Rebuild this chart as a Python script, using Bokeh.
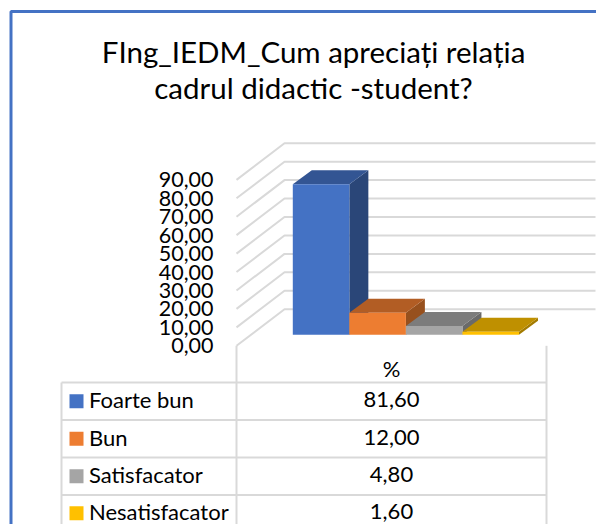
from bokeh.plotting import figure
from bokeh.models import LinearAxis, FixedTicker, Range1d
from bokeh.core.properties import value
from bokeh.embed import file_html
from bokeh.resources import INLINE

categories = ["Foarte bun", "Bun", "Satisfacator", "Nesatisfacator"]
values = [81.60, 12.00, 4.80, 1.60]
value_labels = ["81,60", "12,00", "4,80", "1,60"]
tick_values = [0, 10, 20, 30, 40, 50, 60, 70, 80, 90]
tick_labels = ["0,00", "10,00", "20,00", "30,00", "40,00", "50,00", "60,00", "70,00", "80,00", "90,00"]
front_colors = ["#4472c4", "#ed7d31", "#a5a5a5", "#ffc000"]
top_colors = ["#335593", "#b25d24", "#7c7c7c", "#bf9000"]
side_colors = ["#2a4678", "#97501d", "#6a6a6a", "#a37b00"]
title_lines = ["FIng_IEDM_Cum apreciați relația", "cadrul didactic -student?"]
series_name = "%"

FONT = "Lato"
PX_PER_UNIT = 1.844
ZERO_PIX = 345.3
W, H = 596, 524


def Y(pix):
    """picture pixel row -> value units"""
    return (ZERO_PIX - pix) / PX_PER_UNIT


p = figure(width=W, height=H, output_backend="svg", toolbar_location=None,
           x_axis_type=None, y_axis_type=None, min_border=0,
           x_range=Range1d(0, W), y_range=Range1d(Y(H), Y(0)))
p.outline_line_color = None
p.background_fill_color = "white"
p.grid.visible = False

# outer blue frame
p.line([10.5, 10.5, W], [Y(H), Y(11), Y(11)], line_color="#4472c4", line_width=3)

# 3-D walls
GRID = "#d9d9d9"
WALL_LEFT, WALL_BACK, WALL_RIGHT = 236, 284, 595
DEPTH_UNITS = 36.6 / PX_PER_UNIT
for t in tick_values:
    p.line([WALL_LEFT, WALL_BACK, WALL_RIGHT], [t, t + DEPTH_UNITS, t + DEPTH_UNITS],
           line_color=GRID, line_width=2)

# bars
BAR_LEFT, BAR_W = 292.3, 56.55
BASE = Y(334.3)
DX, DY = 19, 14 / PX_PER_UNIT
for i, v in enumerate(values):
    x0, x1 = BAR_LEFT + i * BAR_W, BAR_LEFT + (i + 1) * BAR_W
    top = BASE + v
    p.patch([x1, x1 + DX, x1 + DX, x1], [BASE, BASE + DY, top + DY, top], fill_color=side_colors[i], line_color=None)
    p.patch([x0, x0 + DX, x1 + DX, x1], [top, top + DY, top + DY, top], fill_color=top_colors[i], line_color=None)
    p.quad(left=x0, right=x1, bottom=BASE, top=top, fill_color=front_colors[i], line_color=None)

# value axis
axis = LinearAxis(fixed_location=WALL_LEFT, ticker=FixedTicker(ticks=tick_values),
                  major_label_overrides=dict(zip(tick_values, tick_labels)),
                  axis_line_color=None, major_tick_line_color=None, minor_tick_line_color=None,
                  major_tick_in=0, major_tick_out=0, major_label_standoff=23,
                  major_label_text_font=FONT, major_label_text_font_size="21.5px",
                  major_label_text_color="#000000")
p.add_layout(axis, "left")

# title
TITLE_ROWS = [51, 87]
p.text([313, 313], [Y(r) for r in TITLE_ROWS], text=title_lines, text_font=value(FONT),
       text_font_size="29.5px", text_align="center", text_baseline="middle", text_color="#000000")

# data table
ROW_LINES = [382, 419.5, 457, 494.5, 531]
TABLE_L, TABLE_M, TABLE_R = 61, 236, 546
for r in ROW_LINES[:-1]:
    p.line([TABLE_L, TABLE_R], [Y(r), Y(r)], line_color=GRID, line_width=2)
p.line([TABLE_L, TABLE_L], [Y(382), Y(H)], line_color=GRID, line_width=2)
p.line([TABLE_M, TABLE_M], [0, Y(H)], line_color=GRID, line_width=2)
p.line([TABLE_R, TABLE_R], [0, Y(H)], line_color=GRID, line_width=2)

TEXT_LIFT = 1.5
p.text([391], [Y(369 - TEXT_LIFT)], text=[series_name], text_font=value(FONT), text_font_size="22px",
       text_align="center", text_baseline="middle", text_color="#000000")
for i, name in enumerate(categories):
    mid = (ROW_LINES[i] + ROW_LINES[i + 1]) / 2
    p.quad(left=69, right=83, top=Y(mid - 7), bottom=Y(mid + 7), fill_color=front_colors[i], line_color=None)
    p.text([88.5], [Y(mid - TEXT_LIFT)], text=[name], text_font=value(FONT), text_font_size="22px",
           text_align="left", text_baseline="middle", text_color="#000000")
    p.text([391], [Y(mid - TEXT_LIFT)], text=[value_labels[i]], text_font=value(FONT), text_font_size="22px",
           text_align="center", text_baseline="middle", text_color="#000000")

open("out.html", "w").write(file_html(p, INLINE))
